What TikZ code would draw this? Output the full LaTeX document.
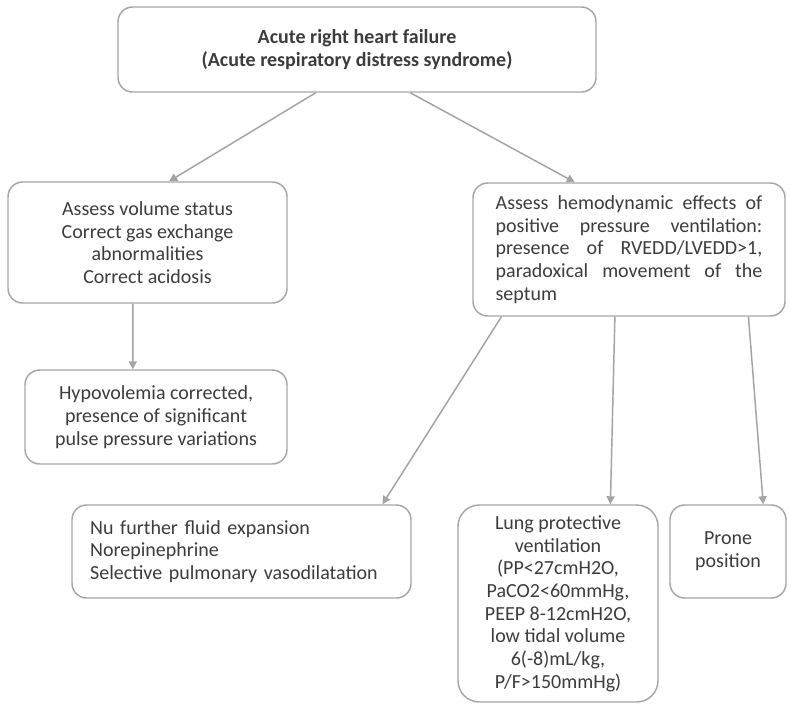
\documentclass[tikz,border=0pt]{standalone}
\usepackage{fontspec}
\setmainfont{Carlito}
\usepackage{xcolor}
\usetikzlibrary{arrows.meta}
\usetikzlibrary{calc}
\definecolor{boxline}{HTML}{A6A6A6}
\definecolor{arrowgray}{HTML}{A3A3A3}
\definecolor{txtgray}{HTML}{3C3C3C}

\begin{document}
\begin{tikzpicture}[
  x=0.75pt, y=-0.75pt,
  font=\fontsize{15}{17}\selectfont,
  box/.style={draw=boxline, line width=1.1pt, rounded corners=11pt, text=txtgray, align=center, inner sep=0pt},
  title/.style={box, font=\fontsize{15}{17.5}\selectfont\bfseries},
  arr/.style={draw=arrowgray, line width=1.1pt, -{Triangle[length=6pt,width=6pt]}}
]
\useasboundingbox (0,0) rectangle (789,704);

% Boxes
\node[title, minimum width=358.5pt, minimum height=63.75pt] (top) at (357,49.5)
  {Acute right heart failure\\(Acute respiratory distress syndrome)};
\node[box, minimum width=209.25pt, minimum height=90.75pt] (volume) at (147.5,242.5)
  {Assess volume status\\Correct gas exchange\\abnormalities\\Correct acidosis};
\node[box, minimum width=196.5pt, minimum height=70.5pt] (hypo) at (156,417)
  {Hypovolemia corrected,\\presence of significant\\pulse pressure variations};
\node[box, align=justify, text width=200pt, minimum width=234pt, minimum height=99.75pt] (hemo) at (629,249.5)
  {Assess hemodynamic effects of\linebreak positive pressure ventilation:\linebreak
   presence of RVEDD/LVEDD>1,\linebreak paradoxical movement of the\linebreak septum};
\node[box, align=left, text width=227pt, minimum width=254.25pt, minimum height=69.75pt] (drugs) at (241.5,551.5)
  {Nu further fluid expansion\\Norepinephrine\\Selective pulmonary vasodilatation};
\node[box, rounded corners=16pt, minimum width=150pt, minimum height=147.75pt] (lung) at (558,603.5)
  {Lung protective\\ventilation\\(PP<27cmH2O,\\PaCO2<60mmHg,\\PEEP 8-12cmH2O,\\low tidal volume\\6(-8)mL/kg,\\P/F>150mmHg)};
\node[box, minimum width=87pt, minimum height=69.75pt] (prone) at (728,551.5)
  {Prone\\position};

% Arrows
\draw[arr] ($(top.south west)!0.414!(top.south east)$) -- ($(volume.north west)!0.577!(volume.north east)$);
\draw[arr] ($(top.south west)!0.611!(top.south east)$) -- ($(hemo.north west)!0.327!(hemo.north east)$);
\draw[arr] ($(volume.south west)!0.448!(volume.south east)$) -- ($(hypo.north west)!0.412!(hypo.north east)$);
\draw[arr] ($(hemo.south west)!0.093!(hemo.south east)$) -- ($(drugs.north west)!0.914!(drugs.north east)$);
\draw[arr] ($(hemo.south west)!0.455!(hemo.south east)$) -- ($(lung.north west)!0.76!(lung.north east)$);
\draw[arr] ($(hemo.south west)!0.881!(hemo.south east)$) -- ($(prone.north west)!0.80!(prone.north east)$);

\end{tikzpicture}
\end{document}
